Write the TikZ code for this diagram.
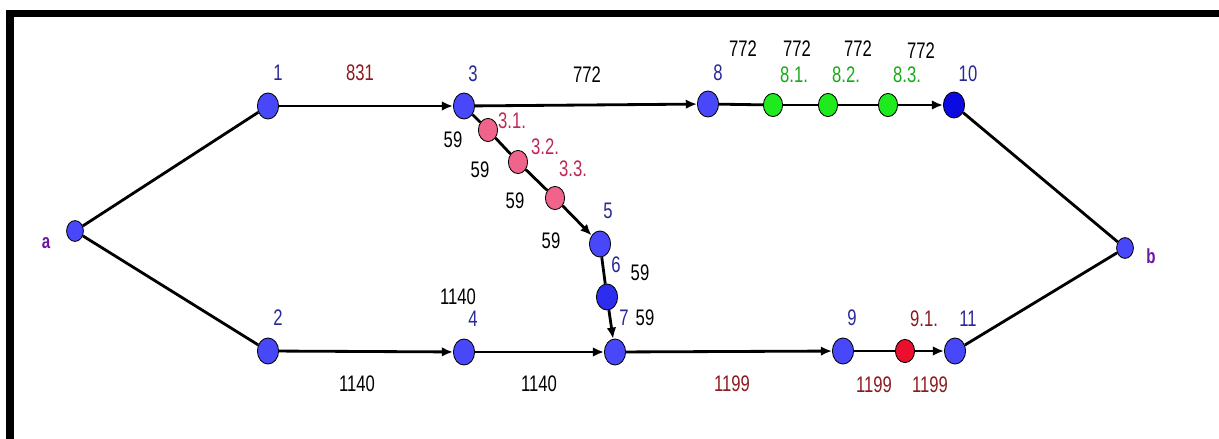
\documentclass[tikz,border=0pt]{standalone}
\usepackage{fontspec}
\newfontfamily\lblfont[FakeStretch=0.74]{Liberation Sans}
\usetikzlibrary{shapes.geometric,arrows.meta}

\definecolor{nodeblue}{RGB}{72,72,250}
\definecolor{midblue}{RGB}{45,45,240}
\definecolor{deepblue}{RGB}{10,10,225}
\definecolor{nodegreen}{RGB}{30,235,30}
\definecolor{nodepink}{RGB}{240,100,140}
\definecolor{nodered}{RGB}{235,15,45}
\definecolor{numblue}{RGB}{40,40,150}
\definecolor{wred}{RGB}{140,25,30}
\definecolor{subpink}{RGB}{190,40,85}
\definecolor{subgreen}{RGB}{25,170,25}
\definecolor{endviolet}{RGB}{110,20,160}

\begin{document}
\begin{tikzpicture}[x=0.025cm, y=-0.025cm,
  vertex/.style={ellipse, draw=black, line width=0.6pt, fill=nodeblue, inner sep=0pt, minimum width=0.53cm, minimum height=0.65cm},
  endvertex/.style={vertex, minimum width=0.42cm, minimum height=0.52cm},
  subvertex/.style={vertex, minimum width=0.48cm, minimum height=0.58cm},
  edge/.style={line width=2pt},
  arrow/.style={edge, -{Latex[length=2.8mm, width=2.4mm]}},
  lbl/.style={font=\lblfont\fontsize{16}{18}\selectfont, inner sep=0pt},
  num/.style={lbl, text=numblue},
  endlbl/.style={lbl, font=\lblfont\bfseries\fontsize{14.5}{16}\selectfont, text=endviolet},
]
\useasboundingbox (0,0) rectangle (1219,439);

% === FRAME ===
\draw[line width=0.175cm] (1219,13.5) -- (10,13.5) -- (10,439);

% === VERTICES ===
\node[endvertex] (a) at (75,231) {};
\node[endvertex] (b) at (1125,248) {};
\node[vertex] (v1) at (268,106) {};
\node[vertex] (v2) at (268,351) {};
\node[vertex] (v3) at (464,106) {};
\node[vertex] (v4) at (464,352) {};
\node[vertex] (v5) at (600,244) {};
\node[vertex, fill=midblue] (v6) at (607,297) {};
\node[vertex] (v7) at (615,352) {};
\node[vertex] (v8) at (708,104) {};
\node[vertex] (v9) at (843,351) {};
\node[vertex, fill=deepblue] (v10) at (954,105) {};
\node[vertex] (v11) at (955,351) {};

\node[subvertex, fill=nodepink] (v31) at (488,130) {};
\node[subvertex, fill=nodepink] (v32) at (518,162) {};
\node[subvertex, fill=nodepink] (v33) at (555,198) {};
\node[subvertex, fill=nodegreen] (v81) at (773,105) {};
\node[subvertex, fill=nodegreen] (v82) at (828,105) {};
\node[subvertex, fill=nodegreen] (v83) at (888,105) {};
\node[subvertex, fill=nodered] (v91) at (905,351) {};

% === CONNECTORS ===
\draw[edge] (a) -- (v1);
\draw[edge] (a) -- (v2);
\draw[edge] (v10) -- (b);
\draw[edge] (v11) -- (b);
\draw[arrow] (v1) -- (v3);
\draw[arrow] (v3) -- (v8);
\draw[edge] (v8) -- (v81);
\draw[edge] (v81) -- (v82);
\draw[edge] (v82) -- (v83);
\draw[arrow] (v83) -- (v10);
\draw[arrow] (v2) -- (v4);
\draw[arrow] (v4) -- (v7);
\draw[arrow] (v7) -- (v9);
\draw[edge] (v9) -- (v91);
\draw[arrow] (v91) -- (v11);
\draw[edge] (v3) -- (v31);
\draw[edge] (v31) -- (v32);
\draw[edge] (v32) -- (v33);
\draw[arrow] (v33) -- (v5);
\draw[edge] (v5) -- (v6);
\draw[arrow] (v6) -- (v7);

% === VERTEX LABELS ===
\node[endlbl] (la) at (46,243) {a};
\node[endlbl] (lb) at (1151,256) {b};
\node[num] (l1) at (278,73) {1};
\node[num] (l2) at (278,318) {2};
\node[num] (l3) at (473,74) {3};
\node[num] (l4) at (473,319) {4};
\node[num] (l5) at (608,211) {5};
\node[num] (l6) at (616,265) {6};
\node[num] (l7) at (624,318) {7};
\node[num] (l8) at (718,73) {8};
\node[num] (l9) at (852,318) {9};
\node[num] (l10) at (968,74) {10};
\node[num] (l11) at (968,319) {11};
\node[lbl, text=subpink] (l31) at (512,121) {3.1.};
\node[lbl, text=subpink] (l32) at (545,147) {3.2.};
\node[lbl, text=subpink] (l33) at (573,169) {3.3.};
\node[lbl, text=subgreen] (l81) at (794,75) {8.1.};
\node[lbl, text=subgreen] (l82) at (846,75) {8.2.};
\node[lbl, text=subgreen] (l83) at (907,75) {8.3.};
\node[lbl, text=wred] (l91) at (924,319) {9.1.};

% === WEIGHTS ===
\node[lbl, text=wred] (w13) at (360,73) {831};
\node[lbl] (w38) at (587,75) {772};
\node[lbl] (w81a) at (743,49) {772};
\node[lbl] (w81b) at (797,49) {772};
\node[lbl] (w82) at (858,49) {772};
\node[lbl] (w83) at (921,51) {772};
\node[lbl] (w31) at (453,140) {59};
\node[lbl] (w32) at (480,170) {59};
\node[lbl] (w33) at (515,201) {59};
\node[lbl] (w35) at (551,241) {59};
\node[lbl] (w56) at (640,273) {59};
\node[lbl] (w67) at (645,318) {59};
\node[lbl] (w4top) at (458,297) {1140};
\node[lbl] (w24) at (357,384) {1140};
\node[lbl] (w47) at (539,384) {1140};
\node[lbl, text=wred] (w79) at (732,384) {1199};
\node[lbl, text=wred] (w991) at (874,385) {1199};
\node[lbl, text=wred] (w9111) at (930,385) {1199};
\end{tikzpicture}
\end{document}
